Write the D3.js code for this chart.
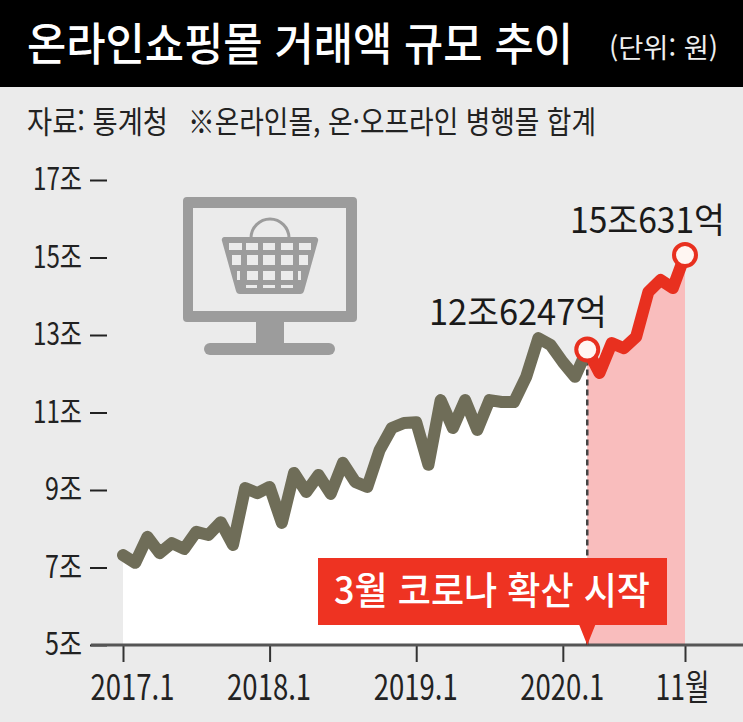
<!DOCTYPE html>
<html lang="ko">
<head>
<meta charset="utf-8">
<script src="https://cdn.jsdelivr.net/npm/d3@7/dist/d3.min.js"></script>
<style>
  html, body { margin: 0; padding: 0; background: #ebebeb; }
  svg { display: block; }
  text { font-family: "Noto Sans CJK KR", "Noto Sans", sans-serif; }
</style>
</head>
<body>
<svg id="chart" width="743" height="722"></svg>
<script>
// Monthly online shopping transactions, trillion won, Jan 2017 to Nov 2020
const turnover = [
  7.32, 7.12, 7.79, 7.37, 7.63, 7.48, 7.92, 7.84, 8.17, 7.58, 9.05, 8.92,
  9.08, 8.15, 9.44, 8.95, 9.39, 8.90, 9.70, 9.21, 9.08, 10.03, 10.60, 10.73,
  10.75, 9.65, 11.32, 10.60, 11.32, 10.55, 11.32, 11.27, 11.27, 11.92, 12.92, 12.74,
  12.30, 11.92, 12.6247, 12.02, 12.79, 12.66, 12.95, 14.11, 14.42, 14.21, 15.0631
];
const yTicks = [5, 7, 9, 11, 13, 15, 17];
const xTicks = [0, 12, 24, 36, 46];
const xTickLabels = ["2017.1", "2018.1", "2019.1", "2020.1", "11월"];
const outbreakIndex = 38;
const lastIndex = 46;
const outbreakLabel = "12조6247억";
const lastLabel = "15조631억";

const svg = d3.select("#chart");
const x = d3.scaleLinear().domain([0, lastIndex]).range([123, 685]);
const y = d3.scaleLinear().domain([5, 17]).range([645, 180]);
const points = turnover.map((v, i) => [i, v]);
const before = points.slice(0, outbreakIndex + 1);
const after = points.slice(outbreakIndex);

// Fitted text: real glyphs squeezed to a set width, like the condensed newspaper face
function fitted(g, px, py, str, size, width, opts = {}) {
  return g.append("text")
    .attr("x", px).attr("y", py)
    .attr("font-size", size)
    .attr("font-weight", opts.weight || 400)
    .attr("fill", opts.fill || "#1a1a1a")
    .attr("text-anchor", opts.anchor || "start")
    .attr("textLength", width)
    .attr("lengthAdjust", "spacingAndGlyphs")
    .text(str);
}

// Header band and source line
svg.append("rect").attr("width", 743).attr("height", 722).attr("fill", "#ebebeb");
svg.append("rect").attr("width", 743).attr("height", 87).attr("fill", "#000");
fitted(svg, 27, 61, "온라인쇼핑몰 거래액 규모 추이", 45, 546, { fill: "#fff", weight: 500 });
fitted(svg, 609, 58, "(단위: 원)", 27, 109, { fill: "#eee" });
fitted(svg, 27, 133, "자료: 통계청", 31, 141, { fill: "#222" });
fitted(svg, 188, 133, "※온라인몰, 온·오프라인 병행몰 합계", 31, 408, { fill: "#222" });

// Areas under the line
const area = d3.area().x(d => x(d[0])).y0(y(5)).y1(d => y(d[1]));
svg.append("path").attr("d", area(before)).attr("fill", "#ffffff");
svg.append("path").attr("d", area(after)).attr("fill", "#f9bdbd");

// Computer and shopping basket pictogram
const icon = svg.append("g").attr("fill", "#9c9c9c");
icon.append("path").attr("fill-rule", "evenodd")
  .attr("d", "M187 197H353a4 4 0 0 1 4 4V318a4 4 0 0 1 -4 4H187a4 4 0 0 1 -4 -4V201a4 4 0 0 1 4 -4Z M193 208V311H346V208Z");
icon.append("rect").attr("x", 256).attr("y", 322).attr("width", 28).attr("height", 23);
icon.append("rect").attr("x", 204).attr("y", 343).attr("width", 131).attr("height", 12).attr("rx", 6);
icon.append("path").attr("d", "M251 238a19 19 0 0 1 38 0").attr("fill", "none")
  .attr("stroke", "#9c9c9c").attr("stroke-width", 3);
icon.append("path").attr("d", "M224 237H315a3 3 0 0 1 3 4L304 291a4 4 0 0 1 -4 3H240a4 4 0 0 1 -4 -3L222 241a3 3 0 0 1 2 -4Z");
const holeRows = [
  { top: 243, h: 7, cols: [229, 246, 263, 281, 299], w: [13, 12, 12, 12, 12] },
  { top: 255, h: 10, cols: [232, 247, 263, 281, 299], w: [9, 11, 12, 12, 9] },
  { top: 271, h: 9, cols: [237, 247, 263, 281, 298], w: [3, 11, 12, 12, 3] },
  { top: 285, h: 3, cols: [246, 263, 281], w: [11, 12, 12] }
];
holeRows.forEach(row => row.cols.forEach((cx, i) => {
  svg.append("rect").attr("x", cx).attr("y", row.top)
    .attr("width", row.w[i]).attr("height", row.h).attr("fill", "#ebebeb");
}));

// Value axis
const yAxis = svg.append("g").attr("transform", "translate(107,0)")
  .call(d3.axisLeft(y).tickValues(yTicks).tickSize(17).tickPadding(8).tickFormat(d => d + "조"));
yAxis.select(".domain").remove();
yAxis.selectAll("line").attr("stroke", "#222").attr("stroke-width", 2);
yAxis.selectAll("text")
  .attr("font-size", 31).attr("fill", "#222")
  .attr("textLength", d => d >= 10 ? 49 : 37)
  .attr("lengthAdjust", "spacingAndGlyphs");

// Month axis; the first label sits a little right of its tick
const xAxis = svg.append("g").attr("transform", `translate(0,${y(5)})`)
  .call(d3.axisBottom(x).tickValues(xTicks).tickSize(17).tickPadding(13)
    .tickFormat((d, i) => xTickLabels[i]));
xAxis.select(".domain").remove();
xAxis.selectAll("line").attr("stroke", "#333").attr("stroke-width", 2);
xAxis.selectAll("text")
  .attr("font-size", 35).attr("fill", "#222")
  .attr("dx", (d, i) => i === 0 ? 9 : (i === 4 ? -3 : -1))
  .attr("textLength", (d, i) => i === 4 ? 54 : 84)
  .attr("lengthAdjust", "spacingAndGlyphs");
svg.append("line").attr("x1", 91).attr("x2", 743)
  .attr("y1", y(5)).attr("y2", y(5))
  .attr("stroke", "#555").attr("stroke-width", 3);

// Guide from the outbreak month to the axis
svg.append("line")
  .attr("x1", x(outbreakIndex)).attr("x2", x(outbreakIndex))
  .attr("y1", y(turnover[outbreakIndex])).attr("y2", y(5))
  .attr("stroke", "#444").attr("stroke-width", 2.5).attr("stroke-dasharray", "6 4");

// Turnover line, grey before the outbreak and red after
const line = d3.line().x(d => x(d[0])).y(d => y(d[1]));
svg.append("path").attr("d", line(before)).attr("fill", "none")
  .attr("stroke", "#6f6d58").attr("stroke-width", 12)
  .attr("stroke-linejoin", "round").attr("stroke-linecap", "round");
svg.append("path").attr("d", line(after)).attr("fill", "none")
  .attr("stroke", "#e8301f").attr("stroke-width", 12)
  .attr("stroke-linejoin", "round").attr("stroke-linecap", "round");

// End markers and their value labels
[outbreakIndex, lastIndex].forEach(i => {
  svg.append("circle").attr("cx", x(i)).attr("cy", y(turnover[i])).attr("r", 11)
    .attr("fill", "#fff6f2").attr("stroke", "#e8301f").attr("stroke-width", 4);
});
fitted(svg, 429, 325, outbreakLabel, 35, 178);
fitted(svg, 570, 233, lastLabel, 35, 155);

// Callout box pointing at March 2020
const cx = x(outbreakIndex);
svg.append("path")
  .attr("d", `M318 558H667V625H${cx + 8}L${cx} ${y(5)}L${cx - 8} 625H318Z`)
  .attr("fill", "#ee3322");
fitted(svg, 334, 604, "3월 코로나 확산 시작", 38, 316, { fill: "#fff", weight: 500 });
</script>
</body>
</html>
